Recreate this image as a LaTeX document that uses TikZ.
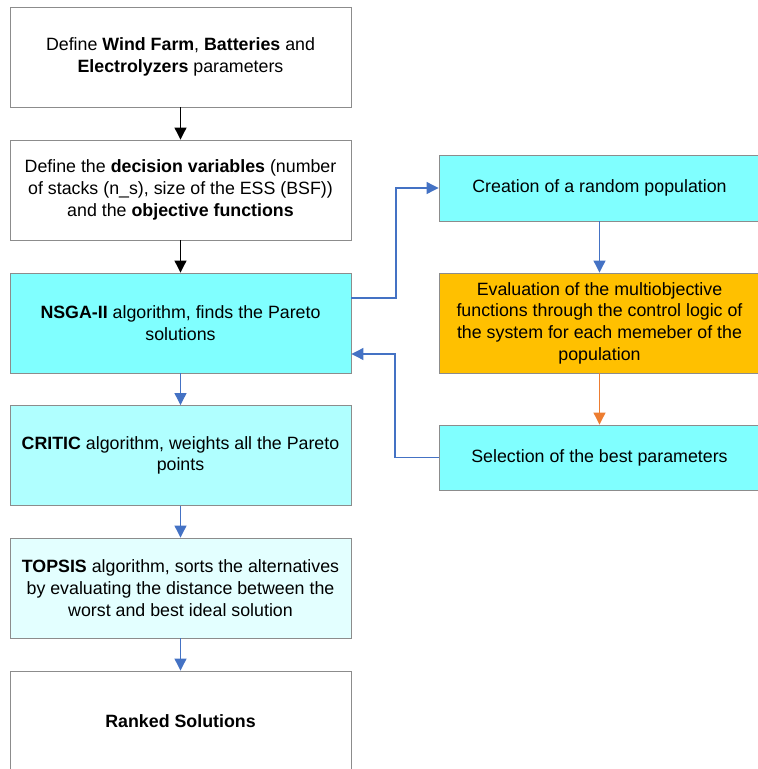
\documentclass[tikz,border=0pt]{standalone}
\usepackage{fontspec}
\setmainfont{Liberation Sans}
\usetikzlibrary{positioning,arrows.meta}
\definecolor{BoxCyan}{HTML}{80FFFF}
\definecolor{BoxCyanMid}{HTML}{B0FFFF}
\definecolor{BoxCyanLight}{HTML}{E3FFFF}
\definecolor{BoxOrange}{HTML}{FFC000}
\definecolor{FlowBlue}{HTML}{4472C4}
\definecolor{FlowOrange}{HTML}{ED7D31}
\definecolor{EdgeGray}{HTML}{8C8C8C}

\begin{document}
\begin{tikzpicture}[x=1pt, y=-1pt,
  mainbox/.style={draw=EdgeGray, line width=0.9pt, align=center, minimum width=341pt, minimum height=100pt, inner sep=0pt, font=\fontsize{17.8}{21.7}\selectfont},
  sidebox/.style={draw=EdgeGray, line width=0.9pt, align=center, minimum width=321pt, inner sep=0pt, font=\fontsize{17.8}{21.7}\selectfont},
  flow/.style={-{Triangle[length=12pt,width=12pt]}, line width=1.1pt},
  loopflow/.style={flow, draw=FlowBlue}]
\useasboundingbox (0,0) rectangle (758,769);
\fill[white] (0,0) rectangle (758,769);
% main column
\node[mainbox]                   (wind)   at (180.5,57)  {Define \textbf{Wind Farm}, \textbf{Batteries} and\\\textbf{Electrolyzers} parameters};
\node[mainbox]                   (vars)   at (180.5,190) {Define the \textbf{decision variables} (number\\of stacks (n\_s), size of the ESS (BSF))\\and the \textbf{objective functions}};
\node[mainbox, fill=BoxCyan]     (nsga)   at (180.5,323) {\textbf{NSGA-II} algorithm, finds the Pareto\\solutions};
\node[mainbox, fill=BoxCyanMid]  (critic) at (180.5,455.5) {\textbf{CRITIC} algorithm, weights all the Pareto\\points};
\node[mainbox, fill=BoxCyanLight](topsis) at (180.5,588) {\textbf{TOPSIS} algorithm, sorts the alternatives\\by evaluating the distance between the\\worst and best ideal solution};
\node[mainbox]                   (ranked) at (180.5,721) {\textbf{Ranked Solutions}};
% genetic loop
\node[sidebox, fill=BoxCyan, minimum height=66pt]    (popul) at (599.5,188) {Creation of a random population};
\node[sidebox, fill=BoxOrange, minimum height=100pt] (evalu) at (599.5,323) {Evaluation of the multiobjective\\functions through the control logic of\\the system for each memeber of the\\population};
\node[sidebox, fill=BoxCyan, minimum height=65pt]    (selec) at (599.5,457.5) {Selection of the best parameters};
\draw[flow, draw=black] (wind) -- (vars);
\draw[flow, draw=black] (vars) -- (nsga);
\draw[loopflow] (nsga) -- (critic);
\draw[loopflow] (critic) -- (topsis);
\draw[loopflow] (topsis) -- (ranked);
\draw[loopflow] ([yshift=25pt]nsga.east) -| (396,188) -- (popul.west);
\draw[loopflow] (popul) -- (evalu);
\draw[flow, draw=FlowOrange] (evalu) -- (selec);
\draw[loopflow] (selec.west) -| (395,354) -- ([yshift=-31pt]nsga.east);
\end{tikzpicture}
\end{document}
